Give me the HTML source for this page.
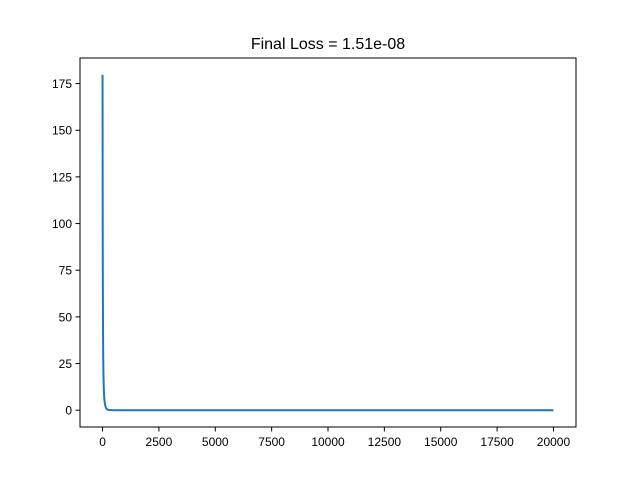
<!DOCTYPE html>
<html><head><meta charset="utf-8"><style>
body{margin:0;background:#fff;}
svg text{font-family:"Liberation Sans","DejaVu Sans",sans-serif;}
</style></head><body>
<svg id="chart" width="640" height="480" xmlns="http://www.w3.org/2000/svg">
<rect width="640" height="480" fill="#fff"/>
<text x="328" y="49" font-size="16" text-anchor="middle" fill="#000">Final Loss = 1.51e-08</text>
<g id="ticks"></g>
<path id="line" fill="none" stroke="#1f77b4" stroke-width="2" stroke-linejoin="round"/>
<rect x="80" y="58" width="496" height="369" fill="none" stroke="#000" stroke-width="1"/>
</svg>
<script>
const steps = [0, 5, 10, 20, 30, 40, 60, 80, 100, 130, 160, 200, 250, 300, 400, 600, 1000, 2000, 5000, 10000, 15000, 20000];
const losses = [179.7, 120, 80, 45, 28, 19, 10, 6, 3.8, 2.0, 1.1, 0.5, 0.2, 0.08, 0.02, 0.005, 0.001, 0.0001, 0.00001, 0.000001, 0.0000001, 0.0000000151];
const xTicks = [0, 2500, 5000, 7500, 10000, 12500, 15000, 17500, 20000];
const yTicks = [0, 25, 50, 75, 100, 125, 150, 175];
const X0=80, X1=576, Y0=58, Y1=427;
const xMin=-1000, xMax=21000, yMin=-9, yMax=188.7;
function xs(v){return X0+(v-xMin)/(xMax-xMin)*(X1-X0);}
function ys(v){return Y1-(v-yMin)/(yMax-yMin)*(Y1-Y0);}
const NS="http://www.w3.org/2000/svg";
const g=document.getElementById('ticks');
xTicks.forEach(t=>{
  const l=document.createElementNS(NS,'line');
  l.setAttribute('x1',xs(t));l.setAttribute('x2',xs(t));l.setAttribute('y1',Y1);l.setAttribute('y2',Y1+4.5);l.setAttribute('stroke','#000');
  
  
  g.appendChild(l);
  const tx=document.createElementNS(NS,'text');
  tx.setAttribute('x',xs(t));tx.setAttribute('y',Y1+19);tx.setAttribute('font-size','12');tx.setAttribute('text-anchor','middle');
  tx.textContent=t;
  
  
  g.appendChild(tx);
});
yTicks.forEach(t=>{
  const l=document.createElementNS(NS,'line');
  l.setAttribute('x1',X0-4.5);l.setAttribute('x2',X0);l.setAttribute('y1',ys(t));l.setAttribute('y2',ys(t));l.setAttribute('stroke','#000');
  
  
  g.appendChild(l);
  const tx=document.createElementNS(NS,'text');
  tx.setAttribute('x',X0-8);tx.setAttribute('y',ys(t)+4.5);tx.setAttribute('font-size','12');tx.setAttribute('text-anchor','end');
  tx.textContent=t;
  
  
  g.appendChild(tx);
});
document.getElementById('line').setAttribute('d',steps.map((s,i)=>(i?'L':'M')+xs(s).toFixed(2)+','+ys(losses[i]).toFixed(2)).join(' '));
</script>
</body></html>
